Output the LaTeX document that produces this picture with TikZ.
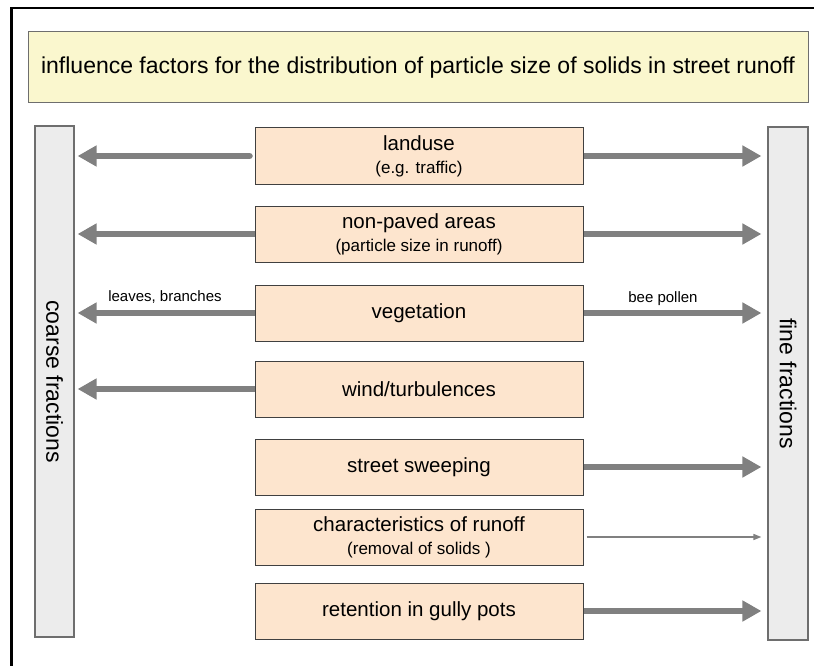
\documentclass[tikz,border=0pt]{standalone}
\usepackage{fontspec}
\setmainfont{Liberation Sans}
\usetikzlibrary{arrows.meta}
\definecolor{titlefill}{RGB}{250,247,206}
\definecolor{boxfill}{RGB}{253,229,206}
\definecolor{colfill}{RGB}{236,236,236}
\definecolor{arrowgray}{RGB}{128,128,128}
\definecolor{boxedge}{RGB}{64,64,64}
\definecolor{coledge}{RGB}{110,110,110}
\newcommand{\subsz}{\fontsize{17}{20}\selectfont}
\tikzset{
  titlebox/.style={draw=coledge, fill=titlefill, line width=1pt, inner sep=0pt,
    minimum width=780pt, minimum height=71pt, font=\fontsize{23}{26}\selectfont},
  colbox/.style={draw=coledge, fill=colfill, line width=1.2pt, inner sep=0pt, minimum width=39pt},
  coltext/.style={rotate=-90, font=\fontsize{23}{26}\selectfont},
  factor/.style={draw=boxedge, fill=boxfill, line width=1pt, inner sep=0pt,
    minimum width=328pt, minimum height=56pt, align=center, font=\fontsize{20.5}{24}\selectfont},
  fat/.style={draw=arrowgray, line width=6.5pt, -{Triangle[length=19pt,width=20pt]}},
  thin/.style={draw=arrowgray, line width=1.5pt, -{Triangle[length=8pt,width=6pt]}},
  lbl/.style={font=\fontsize{15}{18}\selectfont, inner sep=0pt}
}
\begin{document}
\begin{tikzpicture}[x=1pt,y=-1pt]
\useasboundingbox (0,0) rectangle (814,666);
\draw[line width=2.5pt] (11.3,666) -- (11.3,8) -- (814,8);

\node[titlebox] (title) at (418,67.5) {influence factors for the distribution of particle size of solids in street runoff};

\node[colbox, minimum height=511pt] (L) at (54.5,381.5) {};
\node[coltext] (Lt) at (L.center) {coarse fractions};
\node[colbox, minimum width=40pt, minimum height=513pt] (R) at (788,383.5) {};
\node[coltext] (Rt) at (R.center) {fine fractions};

\node[factor] (land) at (419,156) {landuse\\[-1pt]{\subsz (e.g. traffic)}};
\node[factor] (nonp) at (419,234) {non-paved areas\\[-1pt]{\subsz (particle size in runoff)}};
\node[factor] (veg) at (419,313) {vegetation};
\node[factor] (wind) at (419,389) {wind/turbulences};
\node[factor] (sweep) at (419,467) {street sweeping};
\node[factor] (char) at (419,537) {characteristics of runoff\\[-1pt]{\subsz (removal of solids )}};
\node[factor] (ret) at (419,611) {retention in gully pots};

% left arrows
\draw[fat, line cap=round, shorten <=5pt, shorten >=3pt] (land.west) -- (L.east |- land.west);
\draw[fat, shorten >=3pt] (nonp.west) -- (L.east |- nonp.west);
\draw[fat, shorten >=3pt] (veg.west) -- (L.east |- veg.west);
\draw[fat, shorten >=3pt] (wind.west) -- (L.east |- wind.west);

% right arrows
\draw[fat, shorten >=6pt] (land.east) -- (R.west |- land.east);
\draw[fat, shorten >=6pt] (nonp.east) -- (R.west |- nonp.east);
\draw[fat, shorten >=6pt] (veg.east) -- (R.west |- veg.east);
\draw[fat, shorten >=6pt] (sweep.east) -- (R.west |- sweep.east);
\draw[thin, shorten <=3pt, shorten >=6pt] (char.east) -- (R.west |- char.east);
\draw[fat, shorten >=6pt] (ret.east) -- (R.west |- ret.east);

\node[lbl] (leaves) at (165,297) {leaves, branches};
\node[lbl] (bee) at (663,299) {bee pollen};
\end{tikzpicture}
\end{document}
